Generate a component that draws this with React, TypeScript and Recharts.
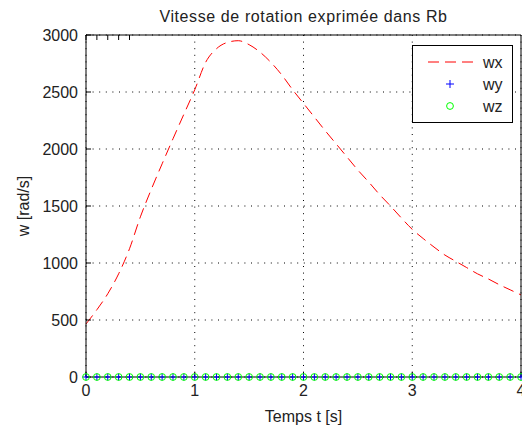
import React from 'react';
import { LineChart, Line, XAxis, YAxis, CartesianGrid, Legend, Label } from 'recharts';

// time samples (s)
const TEMPS = [
  0, 0.1, 0.2, 0.3, 0.4, 0.5, 0.6, 0.7, 0.8, 0.9,
  1, 1.1, 1.2, 1.3, 1.4, 1.5, 1.6, 1.7, 1.8, 1.9,
  2, 2.1, 2.2, 2.3, 2.4, 2.5, 2.6, 2.7, 2.8, 2.9,
  3, 3.1, 3.2, 3.3, 3.4, 3.5, 3.6, 3.7, 3.8, 3.9,
  4,
];

// rotation speed components (rad/s)
const WX = [
  465, 590, 730, 905, 1125, 1405, 1645, 1870, 2090, 2305,
  2520, 2760, 2880, 2935, 2950, 2915, 2850, 2760, 2650, 2520,
  2400, 2280, 2160, 2045, 1930, 1815, 1710, 1600, 1500, 1395,
  1295, 1215, 1140, 1070, 1015, 960, 905, 860, 810, 765,
  720,
];
const WY = [
  0, 0, 0, 0, 0, 0, 0, 0, 0, 0,
  0, 0, 0, 0, 0, 0, 0, 0, 0, 0,
  0, 0, 0, 0, 0, 0, 0, 0, 0, 0,
  0, 0, 0, 0, 0, 0, 0, 0, 0, 0,
  0,
];
const WZ = [
  0, 0, 0, 0, 0, 0, 0, 0, 0, 0,
  0, 0, 0, 0, 0, 0, 0, 0, 0, 0,
  0, 0, 0, 0, 0, 0, 0, 0, 0, 0,
  0, 0, 0, 0, 0, 0, 0, 0, 0, 0,
  0,
];

const X_TICKS = [0, 1, 2, 3, 4];
const Y_TICKS = [0, 500, 1000, 1500, 2000, 2500, 3000];

const TITLE = 'Vitesse de rotation exprimée dans Rb';
const X_LABEL = 'Temps t [s]';
const Y_LABEL = 'w [rad/s]';

const FONT = '"Liberation Sans", Arial, Helvetica, sans-serif';
const TEXT = '#222';

const data = TEMPS.map((t, i) => ({ t, wx: WX[i], wy: WY[i], wz: WZ[i] }));

// blue "+" marker
const PlusDot = (props: any) => {
  const { cx, cy, index } = props;
  if (cx == null || cy == null) return <g key={`p${index}`} />;
  return (
    <path
      key={`p${index}`}
      d={`M${cx - 3.5},${cy}H${cx + 3.5}M${cx},${cy - 3.5}V${cy + 3.5}`}
      stroke="#0000ff"
      strokeWidth={1}
      fill="none"
    />
  );
};

// green "o" marker
const CircleDot = (props: any) => {
  const { cx, cy, index } = props;
  if (cx == null || cy == null) return <g key={`c${index}`} />;
  return <circle key={`c${index}`} cx={cx} cy={cy} r={3.4} stroke="#00ff00" strokeWidth={1} fill="none" />;
};

const LegendBox = () => (
  <svg width={102} height={79} style={{ display: 'block' }}>
    <rect x={0.5} y={0.5} width={100} height={77} fill="#fff" stroke="#000" />
    {/* wx */}
    <line x1={16} y1={17} x2={66} y2={17} stroke="#ff0000" strokeDasharray="11 6" />
    <text x={71} y={22.5} fontFamily={FONT} fontSize={16} fill={TEXT}>wx</text>
    {/* wy */}
    <path d="M34,39H42M38,35V43" stroke="#0000ff" fill="none" />
    <text x={71} y={44.5} fontFamily={FONT} fontSize={16} fill={TEXT}>wy</text>
    {/* wz */}
    <circle cx={38} cy={61} r={3.4} stroke="#00ff00" fill="none" />
    <text x={71} y={66.5} fontFamily={FONT} fontSize={16} fill={TEXT}>wz</text>
  </svg>
);

const tickStyle = { fill: TEXT, fontSize: 16, fontFamily: FONT };
const blank = () => '';

export default function App() {
  return (
    <div style={{ width: 522, height: 432, background: '#fff' }}>
      <style>{'body{margin:0}'}</style>
      <LineChart width={522} height={432} data={data} margin={{ top: 34, right: 0, bottom: 0, left: 0 }}>
        <CartesianGrid
          stroke="#000"
          strokeDasharray="1 5.6"
          horizontalValues={Y_TICKS}
          verticalValues={X_TICKS}
        />
        <XAxis
          dataKey="t"
          type="number"
          domain={[0, 4]}
          ticks={X_TICKS}
          height={55}
          tickSize={-5}
          tickMargin={13}
          stroke="#000"
          tick={tickStyle}
          interval={0}
        >
          <Label value={X_LABEL} position="insideBottom" offset={10} fill={TEXT} fontSize={16} fontFamily={FONT} />
        </XAxis>
        <XAxis
          xAxisId="top"
          orientation="top"
          type="number"
          domain={[0, 4]}
          ticks={X_TICKS}
          height={1}
          tickSize={-5}
          tickFormatter={blank}
          stroke="#000"
          interval={0}
        >
          <Label value={TITLE} position="top" offset={12} fill={TEXT} fontSize={16} fontFamily={FONT} style={{ letterSpacing: 0.6 }} />
        </XAxis>
        <YAxis
          type="number"
          domain={[0, 3000]}
          ticks={Y_TICKS}
          width={86}
          tickSize={-5}
          tickMargin={13}
          stroke="#000"
          tick={tickStyle}
          interval={0}
        >
          <Label
            value={Y_LABEL}
            angle={-90}
            position="insideLeft"
            offset={23}
            fill={TEXT}
            fontSize={16}
            fontFamily={FONT}
            style={{ textAnchor: 'middle' }}
          />
        </YAxis>
        <YAxis
          yAxisId="right"
          orientation="right"
          type="number"
          domain={[0, 3000]}
          ticks={Y_TICKS}
          width={1}
          tickSize={-5}
          tickFormatter={blank}
          stroke="#000"
          interval={0}
        />
        <Legend
          layout="vertical"
          align="center"
          verticalAlign="middle"
          content={<LegendBox />}
          wrapperStyle={{ position: 'absolute', left: 412, top: 45, width: 102, height: 79 }}
        />
        <Line
          dataKey="wx"
          name="wx"
          type="monotone"
          stroke="#ff0000"
          strokeWidth={1}
          strokeDasharray="11 6"
          dot={false}
          activeDot={false}
          isAnimationActive={false}
        />
        <Line
          dataKey="wy"
          name="wy"
          stroke="none"
          dot={PlusDot}
          activeDot={false}
          isAnimationActive={false}
        />
        <Line
          dataKey="wz"
          name="wz"
          stroke="none"
          dot={CircleDot}
          activeDot={false}
          isAnimationActive={false}
        />
      </LineChart>
    </div>
  );
}
